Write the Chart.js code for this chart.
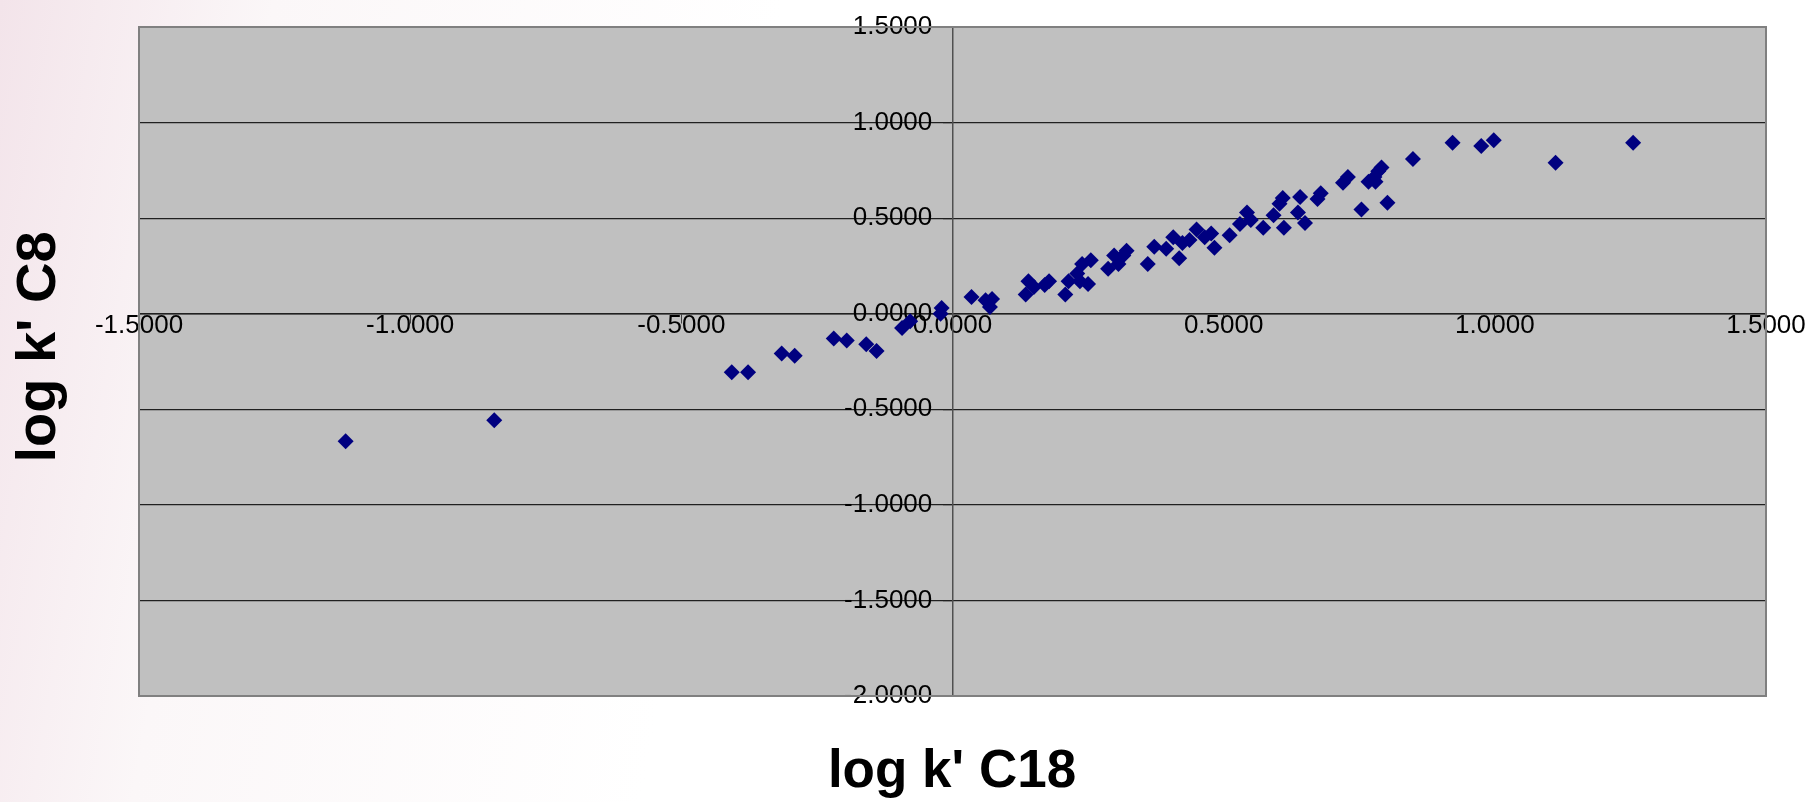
<!DOCTYPE html>
<html><head><meta charset="utf-8">
<script src="https://cdn.jsdelivr.net/npm/chart.js@4.4.0/dist/chart.umd.min.js"></script>
<style>html,body{margin:0;padding:0;background:#fff;}
body{width:1816px;height:802px;overflow:hidden;background:linear-gradient(100deg,#f3e4ea 0%,#fbf7f8 14%,#ffffff 40%,#fff 100%);}
#c{display:block}</style></head><body>
<canvas id="c" width="1816" height="802"></canvas>
<script>
const xTitle = "log k' C18";
const yTitle = "log k' C8";
const xVals = [-1.119,-0.845,-0.407,-0.377,-0.315,-0.291,-0.219,-0.195,-0.159,-0.140,-0.093,-0.078,-0.022,-0.020,
0.035,0.061,0.069,0.073,0.135,0.140,0.150,0.170,0.178,0.208,0.214,0.230,0.235,0.239,0.250,0.255,
0.287,0.298,0.306,0.315,0.321,0.360,0.372,0.394,0.407,0.418,0.424,0.437,0.450,0.465,0.477,0.483,
0.511,0.530,0.543,0.550,0.573,0.592,0.603,0.609,0.611,0.637,0.641,0.650,0.673,0.679,
0.720,0.729,0.754,0.767,0.778,0.780,0.785,0.791,0.802,0.849,0.922,0.975,0.998,1.112,1.255];
const yVals = [-0.667,-0.557,-0.306,-0.306,-0.208,-0.220,-0.130,-0.140,-0.160,-0.195,-0.075,-0.040,0.000,0.030,
0.088,0.070,0.035,0.077,0.100,0.170,0.140,0.150,0.170,0.100,0.170,0.210,0.170,0.260,0.155,0.280,
0.235,0.305,0.260,0.305,0.330,0.260,0.350,0.340,0.400,0.290,0.370,0.385,0.440,0.400,0.420,0.345,
0.410,0.470,0.530,0.490,0.450,0.515,0.575,0.605,0.450,0.530,0.610,0.475,0.600,0.630,
0.685,0.715,0.545,0.690,0.715,0.690,0.745,0.765,0.580,0.810,0.895,0.877,0.907,0.790,0.895];
const pts = xVals.map((x,i)=>({x:x,y:yVals[i]}));
const bgPlugin = {id:'bg',beforeDraw(ch){const a=ch.chartArea,c=ch.ctx;c.save();c.fillStyle='#c0c0c0';c.fillRect(a.left,a.top,a.width,a.height);c.restore();},
 afterDraw(ch){const a=ch.chartArea,c=ch.ctx;c.save();c.strokeStyle='#808080';c.lineWidth=2;c.strokeRect(a.left,a.top,a.width,a.height);
 c.fillStyle='#000';c.textAlign='center';c.textBaseline='middle';
 c.font='bold 53px "Liberation Sans", Arial, sans-serif';c.fillText(xTitle,952,772);
 c.font='bold 56px "Liberation Sans", Arial, sans-serif';c.translate(40,347);c.rotate(-Math.PI/2);c.fillText(yTitle,0,0);c.restore();}};
const fmt = v=>Number(v).toFixed(4);
const tf = {size:26,family:'"Liberation Sans", Arial, sans-serif'};
new Chart(document.getElementById('c'),{type:'scatter',
 data:{datasets:[{data:pts,pointStyle:'rectRot',pointRadius:8,pointHoverRadius:8,backgroundColor:'#000080',borderColor:'#000080',borderWidth:0}]},
 options:{responsive:false,animation:false,layout:{padding:{left:139,right:50,top:27,bottom:106}},
  plugins:{legend:{display:false},tooltip:{enabled:false}},
  scales:{
   x:{type:'linear',min:-1.5,max:1.5,position:{y:0},
     grid:{drawOnChartArea:false,tickLength:9,color:'#404040'},border:{color:'#202020',width:1.5},
     ticks:{stepSize:0.5,callback:fmt,color:'#000',font:tf,maxRotation:0,padding:-12}},
   y:{type:'linear',min:-2,max:1.5,position:{x:0},
     grid:{color:'#202020',lineWidth:1.2,tickLength:9},border:{color:'#505050',width:1.5},
     ticks:{stepSize:0.5,callback:v=>fmt(v)+'\u2002 ',color:'#000',font:tf,padding:8}}
  }},plugins:[bgPlugin]});
</script></body></html>
